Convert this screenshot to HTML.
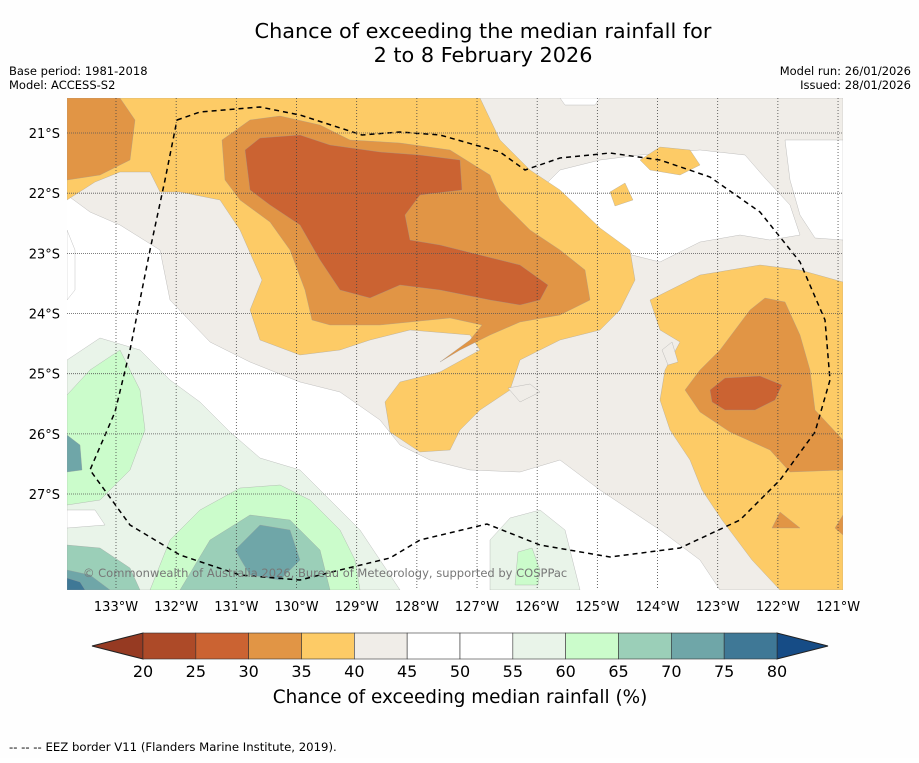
<!DOCTYPE html>
<html><head><meta charset="utf-8"><style>
body{margin:0;background:#fff;}
svg text{font-family:"DejaVu Sans","Liberation Sans",sans-serif;}
</style></head><body>
<svg id="s" width="919" height="758" viewBox="0 0 919 758" xmlns="http://www.w3.org/2000/svg">
<rect width="919" height="758" fill="#fefefe"/>
<text x="483" y="38" font-size="20.8" text-anchor="middle">Chance of exceeding the median rainfall for</text>
<text x="483" y="62" font-size="20.8" text-anchor="middle">2 to 8 February 2026</text>
<text x="9" y="75" font-size="11.5">Base period: 1981-2018</text>
<text x="9" y="89" font-size="11.5">Model: ACCESS-S2</text>
<text x="911" y="75" font-size="11.5" text-anchor="end">Model run: 26/01/2026</text>
<text x="911" y="89" font-size="11.5" text-anchor="end">Issued: 28/01/2026</text>
<defs><clipPath id="mc"><rect x="67" y="98" width="776" height="492"/></clipPath></defs>
<g id="map" clip-path="url(#mc)"><rect x="67" y="98" width="776" height="492" fill="#fff"/></g>
<g id="grid"></g>
<g id="axes"></g>
<text x="83" y="577" font-size="11.5" fill="#777">© Commonwealth of Australia 2026, Bureau of Meteorology, supported by COSPPac</text>
<g id="cbar"></g>
<text x="460" y="703" font-size="18.4" text-anchor="middle">Chance of exceeding median rainfall (%)</text>
<text x="9" y="751" font-size="11.7">--  --  -- EEZ border V11 (Flanders Marine Institute, 2019).</text>
</svg>
<script>
const NS="http://www.w3.org/2000/svg";
const lonTicks=[-133,-132,-131,-130,-129,-128,-127,-126,-125,-124,-123,-122,-121];
const latTicks=[-21,-22,-23,-24,-25,-26,-27];
const levels=[20,25,30,35,40,45,50,55,60,65,70,75,80];
const levelColors=["#ad4a28","#cb6332","#e19545","#fdcb66","#f0ede8","#ffffff","#ffffff","#e9f4e9","#cbfccb","#9bcfb8","#6fa6a8","#3f7896"];
const lowExt="#963a22", highExt="#164c86";
function xLon(l){return 116+(l+133)*60.17;}
function yLat(l){return 133+(-21-l)*60.17;}
function cx(v){return 143+(v-20)*(634/60);}
const shapes=[
["#f0ede8",[[67,195],[67,98],[843,98],[843,590],[720,590],[700,560],[660,530],[600,490],[560,460],[520,472],[470,470],[430,460],[400,445],[380,420],[340,392],[300,382],[250,362],[210,342],[170,300],[160,250],[120,225],[90,212]]],
["#ffffff",[[535,195],[560,170],[600,160],[640,155],[700,150],[745,155],[765,178],[790,205],[800,235],[770,240],[740,235],[700,242],[660,262],[620,252],[580,232],[545,215]]],
["#ffffff",[[785,140],[843,140],[843,240],[815,238],[800,215],[790,180]]],
["#ffffff",[[560,98],[600,98],[595,105],[565,105]]],
["#ffffff",[[67,230],[75,250],[75,290],[67,300]]],
["#e9f4e9",[[67,360],[100,338],[140,350],[170,380],[200,402],[230,432],[260,458],[300,470],[330,500],[360,530],[380,560],[400,590],[67,590]]],
["#e9f4e9",[[490,590],[490,540],[510,518],[540,510],[565,530],[580,590]]],
["#cbfccb",[[67,395],[90,370],[120,350],[140,390],[145,430],[130,470],[100,500],[67,505]]],
["#ffffff",[[67,510],[95,510],[105,525],[67,528]]],
["#cbfccb",[[150,590],[170,540],[200,510],[240,488],[280,485],[310,500],[340,530],[355,560],[360,590]]],
["#cbfccb",[[515,585],[518,552],[532,548],[540,570],[538,585]]],
["#9bcfb8",[[67,545],[100,548],[130,568],[140,590],[67,590]]],
["#9bcfb8",[[180,590],[210,540],[250,515],[290,520],[320,550],[330,590]]],
["#6fa6a8",[[67,435],[80,445],[82,470],[67,472]]],
["#6fa6a8",[[235,550],[260,525],[290,530],[300,560],[280,580],[250,575]]],
["#6fa6a8",[[67,570],[90,575],[110,590],[67,590]]],
["#3f7896",[[67,578],[80,582],[85,590],[67,590]]],
["#fdcb66",[[67,98],[480,98],[500,140],[530,170],[560,190],[600,228],[630,250],[635,280],[620,310],[600,330],[560,340],[520,360],[510,390],[480,410],[460,430],[450,450],[420,452],[390,432],[385,402],[400,382],[440,372],[480,350],[470,335],[410,330],[370,340],[340,350],[300,355],[260,340],[250,310],[262,280],[240,230],[220,200],[180,192],[160,192],[150,172],[120,172],[95,182],[67,200]]],
["#fdcb66",[[650,300],[700,275],[760,265],[800,270],[843,282],[843,590],[780,590],[752,560],[722,520],[702,490],[690,460],[670,430],[660,400],[665,370],[680,342],[660,330]]],
["#fdcb66",[[640,160],[660,147],[690,150],[700,165],[680,175],[650,170]]],
["#fdcb66",[[610,192],[625,183],[633,200],[615,206]]],
["#f0ede8",[[662,350],[672,342],[678,362],[668,365]]],
["#f0ede8",[[508,388],[530,384],[540,392],[520,402]]],
["#e19545",[[67,98],[120,98],[135,120],[130,160],[100,175],[67,180]]],
["#e19545",[[222,140],[250,120],[280,116],[320,125],[350,140],[400,143],[450,150],[490,175],[500,200],[530,230],[560,250],[585,270],[590,300],[560,315],[520,322],[490,335],[460,350],[440,362],[470,340],[482,325],[450,318],[410,322],[380,325],[330,325],[312,320],[305,290],[290,250],[270,222],[240,200],[225,180]]],
["#e19545",[[700,370],[720,350],[750,310],[765,298],[785,302],[800,335],[810,370],[815,410],[843,440],[843,470],[790,472],[770,450],[730,432],[700,412],[685,390]]],
["#e19545",[[772,528],[780,512],[800,528]]],
["#e19545",[[835,528],[843,515],[843,535]]],
["#cb6332",[[245,150],[260,138],[300,135],[330,145],[380,152],[420,155],[460,160],[462,190],[420,195],[405,215],[410,240],[440,245],[480,255],[520,265],[548,285],[540,300],[520,305],[490,300],[440,290],[400,285],[370,298],[340,290],[320,260],[300,225],[270,205],[250,190]]],
["#cb6332",[[710,390],[725,378],[760,376],[782,385],[775,400],[755,410],[725,410],[712,402]]]
];
const eez=[[177,120],[200,112],[260,107],[300,115],[362,135],[400,132],[440,135],[500,152],[525,170],[560,158],[610,153],[660,160],[710,177],[760,212],[800,262],[825,320],[830,380],[815,432],[780,480],[740,520],[680,548],[610,557],[540,545],[487,524],[420,540],[390,558],[340,570],[300,580],[240,575],[180,555],[130,525],[90,470],[115,412],[130,350],[150,250],[165,180],[177,120]];
function el(t,a,p){const e=document.createElementNS(NS,t);for(const k in a)e.setAttribute(k,a[k]);p.appendChild(e);return e;}
const map=document.getElementById('map');
shapes.forEach((s,i)=>{
 const p=el('polygon',{points:s[1].map(q=>q.join(',')).join(' '),fill:s[0],stroke:'#999',"stroke-width":0.3},map);
 
 
});
const ez=el('polyline',{points:eez.map(q=>q.join(',')).join(' '),fill:'none',stroke:'#000',"stroke-width":1.5,"stroke-dasharray":"5,4"},map);


const grid=document.getElementById('grid'),axes=document.getElementById('axes');
lonTicks.forEach(l=>{const x=xLon(l);
 if(x<843){const g=el('line',{x1:x,x2:x,y1:98,y2:590,stroke:'#444',"stroke-width":0.8,"stroke-dasharray":"1,2"},grid);
 
 }
 const t=el('text',{x:x,y:611,"font-size":13,"text-anchor":"middle"},axes);t.textContent=(-l)+'°W';
 
 
});
latTicks.forEach(l=>{const y=yLat(l);
 const g=el('line',{x1:67,x2:843,y1:y,y2:y,stroke:'#555',"stroke-width":0.8,"stroke-dasharray":"1,1"},grid);
 
 
 const t=el('text',{x:60,y:y+5,"font-size":13,"text-anchor":"end"},axes);t.textContent=(-l)+'°S';
 
 
});
const cb=document.getElementById('cbar');
const lo=el('polygon',{points:`${cx(20)},633 ${cx(20)},659 92,646`,fill:lowExt,stroke:'#222',"stroke-width":1},cb);


const hi=el('polygon',{points:`${cx(80)},633 ${cx(80)},659 828,646`,fill:highExt,stroke:'#222',"stroke-width":1},cb);


levelColors.forEach((c,i)=>{
 const r=el('rect',{x:cx(levels[i]),y:633,width:cx(levels[i+1])-cx(levels[i]),height:26,fill:c,stroke:'#333',"stroke-width":0.6},cb);
 
 
});
levels.forEach(v=>{
 const t=el('text',{x:cx(v),y:677,"font-size":16,"text-anchor":"middle"},cb);t.textContent=v;
 
 
});
</script>
</body></html>
